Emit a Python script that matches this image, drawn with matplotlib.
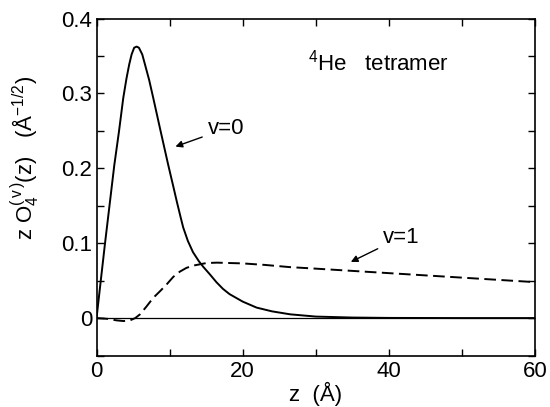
import matplotlib
matplotlib.use('Agg')
import matplotlib.pyplot as plt
from matplotlib.ticker import MultipleLocator

plt.rcParams['font.family'] = ['Liberation Sans', 'DejaVu Sans']
plt.rcParams['mathtext.fontset'] = 'custom'
plt.rcParams['mathtext.rm'] = 'Liberation Sans'
plt.rcParams['mathtext.it'] = 'Liberation Sans'

# v=0 state
z_v0 = [0, 1.14, 2.43, 3.07, 3.66, 4.1, 4.48, 4.8, 5.15, 5.49, 5.8, 6.26, 6.62,
        7.2, 7.76, 8.67, 9.36, 9.8, 10.5, 11.0, 11.5, 11.86, 12.5, 13.2, 14.0,
        14.6, 15.5, 16.4, 17.3, 18.2, 20.0, 21.9, 24.0, 26.5, 30.0, 35.0, 40.0,
        50.0, 60.0]
o_v0 = [0, 0.098, 0.204, 0.249, 0.294, 0.320, 0.339, 0.352, 0.361, 0.3625, 0.361,
        0.352, 0.339, 0.318, 0.294, 0.254, 0.224, 0.205, 0.176, 0.155, 0.135,
        0.121, 0.103, 0.088, 0.076, 0.0685, 0.0585, 0.048, 0.039, 0.032, 0.022,
        0.014, 0.009, 0.005, 0.002, 0.0007, 0.0002, 0, 0]

# v=1 state
z_v1 = [0, 1.5, 2.7, 3.7, 4.6, 5.3, 5.95, 6.8, 7.76, 8.7, 9.6, 10.5, 11.4, 12.3,
        13.2, 15.05, 16.5, 18.2, 20.0, 23.0, 26.5, 30.0, 35.0, 40.0, 45.0, 50.0,
        55.0, 60.0]
o_v1 = [0, -0.001, -0.003, -0.004, -0.003, 0, 0.005, 0.015, 0.027, 0.036, 0.045,
        0.055, 0.062, 0.067, 0.070, 0.0735, 0.074, 0.0735, 0.073, 0.071, 0.068,
        0.066, 0.063, 0.060, 0.057, 0.054, 0.051, 0.048]

fig = plt.figure(figsize=(5.5, 4.07), dpi=100)
ax = fig.add_axes([0.1755, 0.1265, 0.7972, 0.828])

ax.axhline(0, color='black', lw=0.9)
ax.plot(z_v0, o_v0, color='black', lw=1.4, solid_joinstyle='round')
ax.plot(z_v1, o_v1, color='black', lw=1.4, dashes=(6, 2.8))

ax.set_xlim(0, 60)
ax.set_ylim(-0.05, 0.4)
ax.xaxis.set_major_locator(MultipleLocator(20))
ax.xaxis.set_minor_locator(MultipleLocator(10))
ax.yaxis.set_minor_locator(MultipleLocator(0.05))
ax.set_yticks([0, 0.1, 0.2, 0.3, 0.4])
ax.set_yticklabels(['0', '0.1', '0.2', '0.3', '0.4'])
ax.tick_params(which='both', direction='in', top=True, right=True, labelsize=16, width=1)
ax.tick_params(which='both', length=5)
ax.tick_params(axis='y', pad=3)
ax.tick_params(axis='x', pad=4)
for s in ax.spines.values():
    s.set_linewidth(1.2)

ax.set_xlabel('z  (Å)', fontsize=16, labelpad=0)
ax.set_ylabel(r'z O$_4^{(\,v\,)}$(z)   (Å$^{-1/2}$)', fontsize=16)
ax.yaxis.set_label_coords(-0.124, 0.585)

ax.annotate('v=0', xy=(10.8, 0.229), xytext=(15.2, 0.253), fontsize=16, va='center',
            arrowprops=dict(arrowstyle='-|>', color='black', lw=1, shrinkA=2, shrinkB=0,
                            mutation_scale=10))
ax.annotate('v=1', xy=(34.8, 0.075), xytext=(39.2, 0.108), fontsize=16, va='center',
            arrowprops=dict(arrowstyle='-|>', color='black', lw=1, shrinkA=2, shrinkB=0,
                            mutation_scale=10))
ax.text(28.9, 0.341, r'$^4$He   tetramer', fontsize=16, va='center')

fig.savefig('out.png', dpi=100)
